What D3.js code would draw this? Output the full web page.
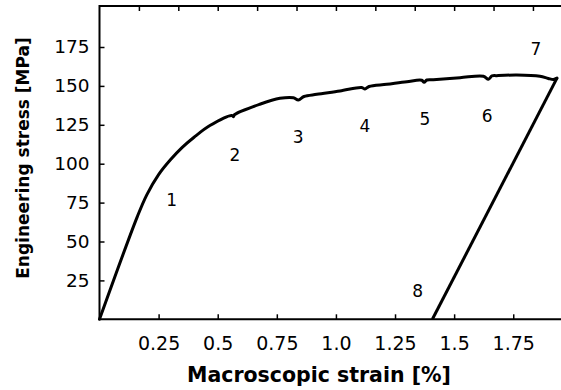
<!DOCTYPE html>
<html>
<head>
<meta charset="utf-8">
<script src="https://cdn.jsdelivr.net/npm/d3@7/dist/d3.min.js"></script>
<style>
  html, body { margin: 0; padding: 0; background: #fff; }
  svg { display: block; }
  text { font-family: "DejaVu Sans", sans-serif; fill: #000; }
</style>
</head>
<body>
<svg id="chart" width="561" height="390"></svg>
<script>
// Tensile loading curve: macroscopic strain [%] vs engineering stress [MPa]
const loadStrain = [0, 0.160, 0.200, 0.250, 0.300, 0.350, 0.400, 0.467, 0.560, 0.566, 0.572,
  0.678, 0.763, 0.820, 0.841, 0.865, 0.919, 1.017, 1.109, 1.123, 1.140, 1.215, 1.300,
  1.363, 1.373, 1.385, 1.412, 1.525, 1.624, 1.645, 1.660, 1.680, 1.765, 1.863, 1.898, 1.920, 1.935];
const loadStress = [0, 66.0, 80.0, 93.0, 102.5, 110.5, 117.0, 124.5, 131.0, 130.2, 131.6,
  138.2, 142.0, 142.4, 141.0, 143.2, 144.6, 146.7, 149.0, 148.0, 149.6, 151.0, 152.7,
  153.6, 152.3, 153.8, 154.0, 155.3, 156.2, 154.3, 156.4, 156.6, 157.0, 156.2, 154.8, 154.1, 155.0];

// Elastic unloading branch
const unloadStrain = [1.935, 1.408];
const unloadStress = [155.0, 0];

// Stage markers along the test
const stageNames = ["1", "2", "3", "4", "5", "6", "7", "8"];
const stageStrain = [0.305, 0.573, 0.840, 1.123, 1.376, 1.640, 1.846, 1.346];
const stageStress = [72.8, 102.0, 113.5, 120.5, 124.9, 127.0, 169.9, 14.3];

// Axis ticks
const xTicks = [0.25, 0.5, 0.75, 1.0, 1.25, 1.5, 1.75];
const xTickLabels = ["0.25", "0.5", "0.75", "1.0", "1.25", "1.5", "1.75"];
const yTicks = [25, 50, 75, 100, 125, 150, 175];
const topTicks = [1/6, 2/6, 3/6, 4/6, 5/6, 1, 7/6, 8/6, 9/6, 10/6, 11/6];

(function draw() {
  const svg = d3.select("#chart");
  const mLeft = 99.5, mRight = 561, mBottom = 319.3, mTop = 6;

  const x = d3.scaleLinear().domain([0, 1.952]).range([mLeft, mRight]);
  const y = d3.scaleLinear().domain([0, 200]).range([mBottom, 8.1]);

  // Frame: left and bottom axes plus the top rule
  const frame = svg.append("g").attr("stroke", "#000").attr("stroke-width", 2).attr("fill", "none");
  frame.append("path").attr("d", `M${mLeft},${mBottom}V${mTop}H${mRight}`);
  frame.append("path").attr("d", `M${mLeft},${mBottom}H${mRight}`);

  // Bottom axis: inward ticks
  const xAxis = d3.axisBottom(x).tickValues(xTicks).tickSizeInner(-5).tickSizeOuter(0)
    .tickPadding(17).tickFormat((d, i) => xTickLabels[i]);
  const gx = svg.append("g").attr("transform", `translate(0,${mBottom})`).call(xAxis);
  gx.select(".domain").remove();
  gx.selectAll("line").attr("stroke", "#000").attr("stroke-width", 1.5);
  gx.selectAll("text").attr("font-size", 19).attr("font-family", "DejaVu Sans").attr("dy", "0.71em");

  // Left axis: inward ticks
  const yAxis = d3.axisLeft(y).tickValues(yTicks).tickSizeInner(-5).tickSizeOuter(0).tickPadding(10);
  const gy = svg.append("g").attr("transform", `translate(${mLeft},0)`).call(yAxis);
  gy.select(".domain").remove();
  gy.selectAll("line").attr("stroke", "#000").attr("stroke-width", 1.5);
  gy.selectAll("text").attr("font-size", 18.5).attr("font-family", "DejaVu Sans");

  // Top rule ticks
  const xTop = d3.axisTop(x).tickValues(topTicks).tickSizeInner(-5).tickSizeOuter(0).tickFormat("");
  const gt = svg.append("g").attr("transform", `translate(0,${mTop})`).call(xTop);
  gt.select(".domain").remove();
  gt.selectAll("line").attr("stroke", "#000").attr("stroke-width", 1.5);

  // Stress-strain curve
  const loadPts = loadStrain.map((s, i) => [s, loadStress[i]]);
  const unloadPts = unloadStrain.map((s, i) => [s, unloadStress[i]]);
  const curve = d3.line().x(d => x(d[0])).y(d => y(d[1])).curve(d3.curveCatmullRom.alpha(0.5));
  const straight = d3.line().x(d => x(d[0])).y(d => y(d[1]));
  svg.append("path").datum(loadPts)
    .attr("d", curve)
    .attr("fill", "none").attr("stroke", "#000").attr("stroke-width", 3)
    .attr("stroke-linejoin", "round").attr("stroke-linecap", "round");
  svg.append("path").datum(unloadPts)
    .attr("d", straight)
    .attr("fill", "none").attr("stroke", "#000").attr("stroke-width", 3);

  // Stage numbers
  svg.append("g").selectAll("text").data(stageNames).join("text")
    .attr("x", (d, i) => x(stageStrain[i]))
    .attr("y", (d, i) => y(stageStress[i]))
    .attr("text-anchor", "middle")
    .attr("font-size", 17)
    .text(d => d);

  // Axis titles
  svg.append("text")
    .attr("x", 319).attr("y", 382)
    .attr("text-anchor", "middle")
    .attr("font-size", 20.5).attr("font-weight", "bold")
    .text("Macroscopic strain [%]");
  svg.append("text")
    .attr("transform", "translate(29,158) rotate(-90)")
    .attr("text-anchor", "middle")
    .attr("font-size", 17).attr("font-weight", "bold")
    .text("Engineering stress [MPa]");
})();
</script>
</body>
</html>
